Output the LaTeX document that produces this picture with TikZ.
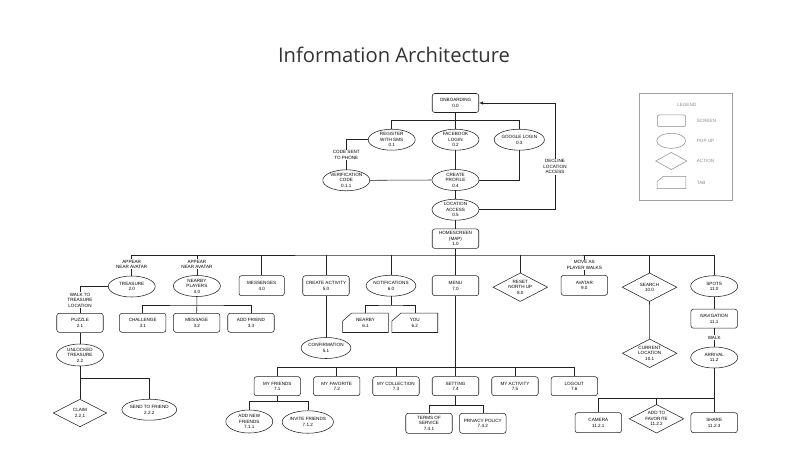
\documentclass[tikz,border=0pt]{standalone}
\usepackage{fontspec}
\setmainfont{Liberation Sans}
\newfontfamily\titlefont{Open Sans}
\usetikzlibrary{shapes.geometric,arrows.meta}
\definecolor{titlegray}{HTML}{333333}
\definecolor{lngray}{HTML}{222222}
\definecolor{leggray}{HTML}{8A8A8A}
\tikzset{
  ln/.style={draw=lngray, line width=0.55pt},
  base/.style={inner sep=0pt, align=center, font=\fontsize{4.6}{5.5}\selectfont, text=black},
  scr/.style={base, ln, rounded corners=2.5pt, minimum width=46.5pt, minimum height=19pt},
  pop/.style={base, ln, ellipse, minimum width=47pt, minimum height=21pt},
  act/.style={base, minimum width=54pt, minimum height=28pt},
  tabbox/.style={base, minimum width=45.5pt, minimum height=19pt},
  lab/.style={base, fill=white, inner sep=0.8pt},
  legtxt/.style={inner sep=0pt, anchor=west, font=\fontsize{4.6}{5.5}\selectfont, text=leggray},
}
\newcommand\diamondof[2][ln]{\draw[#1] (#2.north) -- (#2.east) -- (#2.south) -- (#2.west) -- cycle;}
\newcommand\tabof[2][ln]{\draw[#1] ([xshift=9pt]#2.north west) -- (#2.north east) -- (#2.south east) -- (#2.south west) -- ([yshift=-8pt]#2.north west) -- cycle;}
\begin{document}
\begin{tikzpicture}[x=1pt,y=-1pt]
\useasboundingbox (0,0) rectangle (800,475);
% title
\node[anchor=base, inner sep=0pt, font=\titlefont\fontsize{20.2}{24}\selectfont, text=titlegray] (title) at (394,62.7) {Information Architecture};

% legend
\node[draw=leggray!80, line width=0.5pt, minimum width=93pt, minimum height=106.7pt, inner sep=0pt] (legbox) at (685.8,146.7) {};
\node[inner sep=0pt, font=\fontsize{4.6}{5.5}\selectfont, text=leggray] (legtitle) at (686.7,105) {LEGEND};
\node[draw=leggray, line width=0.5pt, rounded corners=2pt, minimum width=28.3pt, minimum height=11.7pt, inner sep=0pt] (lscr) at (671.5,120.8) {};
\node[draw=leggray, line width=0.5pt, ellipse, minimum width=29pt, minimum height=15pt, inner sep=0pt] (lpop) at (671.2,140.8) {};
\node[minimum width=30.7pt, minimum height=16.7pt, inner sep=0pt] (lact) at (671.3,161) {};
\diamondof[draw=leggray, line width=0.5pt]{lact}
\node[minimum width=28.3pt, minimum height=11.7pt, inner sep=0pt] (ltab) at (671.5,182.5) {};
\draw[draw=leggray, line width=0.5pt] ([xshift=6pt]ltab.north west) -- (ltab.north east) -- (ltab.south east) -- (ltab.south west) -- ([yshift=-5pt]ltab.north west) -- cycle;
\node[legtxt] (tscr) at (696.7,121) {SCREEN};
\node[legtxt] (tpop) at (696.7,141) {POP UP};
\node[legtxt] (tact) at (696.7,160.7) {ACTION};
\node[legtxt] (ttab) at (696.7,182.7) {TAB};

% onboarding
\node[scr] (onb) at (455.5,103) {ONBOARDING\\0.0};
\node[pop] (reg) at (391.7,139.7) {REGISTER\\WITH SMS\\0.1};
\node[pop] (fb) at (455.5,139.7) {FACEBOOK\\LOGIN\\0.2};
\node[pop] (gog) at (519.3,139.7) {GOOGLE LOGIN\\0.3};
\node[pop] (ver) at (346.3,180.3) {VERIFICATION\\CODE\\0.1.1};
\node[pop] (cp) at (455.5,180) {CREATE\\PROFILE\\0.4};
\node[pop] (loc) at (455.5,209.7) {LOCATION\\ACCESS\\0.5};
\node[scr, minimum height=19.5pt] (home) at (455.5,238.7) {HOMESCREEN\\(MAP)\\1.0};
\coordinate (bus0) at (455.5,120.7);
\coordinate (dec) at (555,103);

\draw[ln] (onb.south) -- (fb.north);
\draw[ln] (reg.north) |- (bus0) -| (gog.north);
\draw[ln] (reg.west) -| (ver.north);
\draw[ln] (ver.east) -- (cp.west);
\draw[ln] (fb.south) -- (cp.north);
\draw[ln] (gog.south) |- (cp.east);
\draw[ln] (cp.south) -- (loc.north);
\draw[ln] (loc.south) -- (home.north);
\draw[ln, -{Latex[length=4pt,width=3.2pt]}] (loc.east) -| (dec) -- (onb.east);

% level 1
\node[pop] (tre) at (131.7,286.5) {TREASURE\\2.0};
\node[pop] (np) at (196.9,286) {NEARBY\\PLAYERS\\3.0};
\node[scr, minimum width=45.3pt, minimum height=20pt] (msgr) at (261.7,285.7) {MESSENGES\\4.0};
\node[scr, minimum height=20pt] (ca) at (326,285.7) {CREATE ACTIVITY\\5.0};
\node[pop] (notif) at (391,285.7) {NOTIFICATIONS\\6.0};
\node[scr, minimum height=20pt] (menu) at (455.5,285.7) {MENU\\7.0};
\node[act] (reset) at (520.3,287.2) {RESET\\NORTH UP\\8.0};
\node[scr, minimum height=20pt] (avatar) at (584.3,285.3) {AVATAR\\9.0};
\node[act] (search) at (649.5,287.2) {SEARCH\\10.0};
\node[pop] (spots) at (714.2,286.2) {SPOTS\\11.0};
\diamondof{reset}
\diamondof{search}
\coordinate (bus1) at (455.5,255);

\draw[ln] (home.south) -- (menu.north);
\draw[ln] (tre.north) |- (bus1) -| (spots.north);
\draw[ln] (np.north) -- (np.north |- bus1);
\draw[ln] (msgr.north) -- (msgr.north |- bus1);
\draw[ln] (ca.north) -- (ca.north |- bus1);
\draw[ln] (notif.north) -- (notif.north |- bus1);
\draw[ln] (reset.north) -- (reset.north |- bus1);
\draw[ln] (avatar.north) -- (avatar.north |- bus1);
\draw[ln] (search.north) -- (search.north |- bus1);

% treasure branch
\node[scr] (puz) at (80,322.8) {PUZZLE\\2.1};
\node[pop, minimum height=22pt] (unl) at (80,355) {UNLOCKED\\TREASURE\\2.2};
\node[act, minimum width=53pt, minimum height=27pt] (claim) at (80,413) {CLAIM\\2.2.1};
\node[pop] (stf) at (149.3,409.7) {SEND TO FRIEND\\2.2.2};
\diamondof{claim}
\coordinate (bus22) at (80,378.3);
\draw[ln] (tre.west) -| (puz.north);
\draw[ln] (puz.south) -- (unl.north);
\draw[ln] (unl.south) -- (claim.north);
\draw[ln] (bus22) -| (stf.north);

% nearby players branch
\node[scr] (chal) at (142.7,322.8) {CHALLENGE\\3.1};
\node[scr] (mes) at (196.7,322.8) {MESSAGE\\3.2};
\node[scr] (addf) at (251,322.8) {ADD FRIEND\\3.3};
\coordinate (bus3) at (196.7,305);
\draw[ln] (np.south) -- (mes.north);
\draw[ln] (chal.north) |- (bus3) -| (addf.north);

% create activity
\node[pop] (conf) at (326,348) {CONFIRMATION\\5.1};
\draw[ln] (ca.south) -- (conf.north);

% notifications
\node[tabbox] (nby) at (365.5,322.8) {NEARBY\\6.1};
\node[tabbox] (you) at (414.8,322.8) {YOU\\6.2};
\tabof{nby}
\tabof{you}
\coordinate (bus6) at (391,305);
\draw[ln] (notif.south) -- (bus6);
\draw[ln] (nby.north) |- (bus6) -| (you.north);

% menu
\node[scr] (mf) at (277.3,386.2) {MY FRIENDS\\7.1};
\node[scr] (mfav) at (336.7,386.2) {MY FAVORITE\\7.2};
\node[scr] (mcol) at (396,386.2) {MY COLLECTION\\7.3};
\node[scr] (set) at (455.5,386.2) {SETTING\\7.4};
\node[scr] (mact) at (515,386.2) {MY ACTIVITY\\7.5};
\node[scr] (logo) at (574.3,386.2) {LOGOUT\\7.6};
\coordinate (bus7) at (455.5,367.3);
\draw[ln] (menu.south) -- (set.north);
\draw[ln] (mf.north) |- (bus7) -| (logo.north);
\draw[ln] (mfav.north) -- (mfav.north |- bus7);
\draw[ln] (mcol.north) -- (mcol.north |- bus7);
\draw[ln] (mact.north) -- (mact.north |- bus7);

\node[pop, minimum height=23pt] (anf) at (249.3,421.5) {ADD NEW\\FRIENDS\\7.1.1};
\node[pop, minimum width=47.7pt, minimum height=22.5pt] (inv) at (307.8,422) {INVITE FRIENDS\\7.1.2};
\coordinate (bus71) at (277.3,401.7);
\draw[ln] (mf.south) -- (bus71);
\draw[ln] (anf.north) |- (bus71) -| (inv.north);

\node[scr, minimum height=20pt] (tos) at (429,423.3) {TERMS OF\\SERVICE\\7.4.1};
\node[scr, minimum height=20pt] (pp) at (482.8,423.3) {PRIVACY POLICY\\7.4.2};
\coordinate (bus74) at (455.5,405.7);
\draw[ln] (set.south) -- (bus74);
\draw[ln] (tos.north) |- (bus74) -| (pp.north);

% search
\node[act] (cur) at (649.7,353.3) {CURRENT\\LOCATION\\10.1};
\diamondof{cur}
\draw[ln] (search.south) -- (cur.north);

% spots
\node[scr] (nav) at (714.2,318.7) {NAVIGATION\\11.1};
\node[pop] (arr) at (714.2,357.5) {ARRIVAL\\11.2};
\node[scr, minimum height=20pt] (cam) at (598.3,422.7) {CAMERA\\11.2.1};
\node[act] (atf) at (656.5,418.8) {ADD TO\\FAVORITE\\11.2.2};
\node[scr, minimum height=20pt] (share) at (714.2,422.7) {SHARE\\11.2.3};
\diamondof{atf}
\coordinate (bus112) at (714.2,398.3);
\draw[ln] (spots.south) -- (nav.north);
\draw[ln] (nav.south) -- (arr.north);
\draw[ln] (arr.south) -- (share.north);
\draw[ln] (cam.north) |- (bus112);
\draw[ln] (atf.north) -- (atf.north |- bus112);

% line labels
\node[lab] (lcode) at (346.3,155) {CODE SENT\\TO PHONE};
\node[lab] (ldec) at (555,166.7) {DECLINE\\LOCATION\\ACCESS};
\node[lab] (lap1) at (131.7,264.3) {APPEAR\\NEAR AVATAR};
\node[lab] (lap2) at (196.9,264.3) {APPEAR\\NEAR AVATAR};
\node[lab] (lmove) at (584.3,265) {MOVE AS\\PLAYER WALKS};
\node[lab] (lwalkto) at (80,300) {WALK TO\\TREASURE\\LOCATION};
\node[lab] (lwalk) at (714.2,337.7) {WALK};
\end{tikzpicture}
\end{document}
